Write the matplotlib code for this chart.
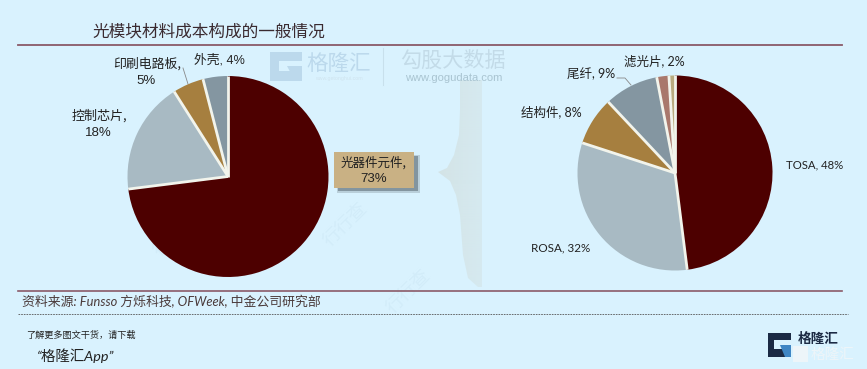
import matplotlib
matplotlib.use("Agg")
import matplotlib.pyplot as plt
import numpy as np
from matplotlib.patches import Rectangle, Polygon, PathPatch
from matplotlib.path import Path

plt.rcParams['font.family'] = ['Noto Sans CJK SC', 'DejaVu Sans']

left_values = [73, 18, 5, 4]
left_colors = ['#4d0000', '#a8bac3', '#a67f3f', '#8496a1']
right_values = [48, 32, 8, 9, 2, 1]
right_colors = ['#4d0000', '#a8bac3', '#a67f3f', '#8496a1', '#a9786c', '#b9ab7f']

W, H = 867, 369
BG = '#d9f2fe'
INK = '#222222'
RULE = '#8a5a68'
GAP = '#f2f4ec'
ARIAL = ['Liberation Sans', 'Noto Sans CJK SC']
LATO = ['Lato', 'Noto Sans CJK SC']

fig = plt.figure(figsize=(W / 100, H / 100), dpi=100, facecolor=BG)
bg = fig.add_axes([0, 0, 1, 1], zorder=0)
bg.set_xlim(0, W)
bg.set_ylim(H, 0)
bg.axis('off')


def draw_pie(cx, cy, r, values, colors):
    ax = fig.add_axes([(cx - r) / W, 1 - (cy + r) / H, 2 * r / W, 2 * r / H], zorder=2)
    ax.pie(values, colors=colors, startangle=90, counterclock=False, radius=1,
           wedgeprops=dict(edgecolor='none', linewidth=0))
    # separators only between slices, no ring around the pie
    share = np.cumsum(values) / np.sum(values)
    for s in share:
        a = np.pi / 2 - 2 * np.pi * s
        ax.plot([0, np.cos(a)], [0, np.sin(a)], color=GAP, lw=2.0, solid_capstyle='butt')
    ax.set_xlim(-1.005, 1.005)
    ax.set_ylim(-1.005, 1.005)
    ax.axis('off')
    return ax


draw_pie(228, 176.5, 101, left_values, left_colors)
draw_pie(675, 173, 98, right_values, right_colors)

# rules
bg.plot([18, 842], [44.5, 44.5], color=RULE, lw=1.3)
bg.plot([18, 842], [291, 291], color=RULE, lw=1.2)
bg.plot([18, 848], [313.5, 313.5], color='#555555', lw=0.6, ls=(0, (2, 1.2)))

# title and notes
bg.text(92, 32, '光模块材料成本构成的一般情况', fontsize=12, color='#3a2a30', va='center', ha='left')
bg.text(22, 302, '资料来源: Funsso 方烁科技, OFWeek, 中金公司研究部', fontsize=9.3, color='#4a3a3a', va='center', ha='left',
        family=LATO, style='italic')
bg.text(26, 335, '了解更多图文干货，请下载', fontsize=6.6, color='#222222', va='center', ha='left')
bg.text(37, 356, '“格隆汇App”', fontsize=10.4, color='#222222', va='center', ha='left', family=LATO, style='italic')

# pie labels, left
bg.text(147, 64, '印刷电路板,', fontsize=9.3, color=INK, ha='center', va='center')
bg.text(146, 81, '5%', fontsize=9.5, color=INK, ha='center', va='center', family=ARIAL)
bg.text(219, 60, '外壳, 4%', fontsize=9.2, color=INK, ha='center', va='center', family=ARIAL)
bg.text(99, 116, '控制芯片,', fontsize=9.4, color=INK, ha='center', va='center')
bg.text(98, 133, '18%', fontsize=9.5, color=INK, ha='center', va='center', family=ARIAL)
bg.plot([183, 188], [68, 84], color='#888888', lw=0.6)

# callout
bg.add_patch(Rectangle((337, 155), 83, 38, fc='#6f7f88', ec='none', alpha=0.3, zorder=2))
bg.add_patch(Rectangle((338, 156), 80, 35, fc='#5f6f78', ec='none', alpha=0.6, zorder=2))
bg.add_patch(Rectangle((334, 152), 80, 36, fc='#c9b184', ec='none', zorder=3))
bg.text(374, 163, '光器件元件,', fontsize=9, color=INK, ha='center', va='center', zorder=4)
bg.text(374, 179, '73%', fontsize=9.5, color=INK, ha='center', va='center', zorder=4, family=ARIAL)

# pie labels, right
bg.text(654, 61, '滤光片, 2%', fontsize=9, color=INK, ha='center', va='center', family=LATO)
bg.text(591, 74, '尾纤, 9%', fontsize=9, color=INK, ha='center', va='center', family=LATO)
bg.text(551, 112, '结构件, 8%', fontsize=9, color=INK, ha='center', va='center', family=LATO)
bg.text(786, 165, 'TOSA, 48%', fontsize=8.2, color=INK, ha='left', va='center', family=LATO)
bg.text(531, 248, 'ROSA, 32%', fontsize=8.4, color=INK, ha='left', va='center', family=LATO)
bg.plot([617, 625, 631], [78, 78, 85], color='#888888', lw=0.6)

# brace with soft horizontal gradient, clipped to its outline
verts = [(460, 80), (482, 80), (482, 287), (478, 287),
         (468, 278), (463, 255), (460, 215), (456, 195), (450, 181), (438, 172),
         (447, 168), (454, 155), (459, 135), (460, 110), (460, 80)]
codes = [Path.MOVETO] + [Path.LINETO] * (len(verts) - 2) + [Path.CLOSEPOLY]
outline = PathPatch(Path(verts, codes), fc='none', ec='none', transform=bg.transData)
bg.add_patch(outline)
ramp = np.linspace(0, 1, 48)[None, :]
rgba = np.zeros((1, 48, 4))
rgba[..., :3] = np.array([0xd3, 0xe2, 0xe3]) / 255
rgba[..., 3] = 0.9 - 0.4 * ramp
im = bg.imshow(rgba, extent=(436, 484, 290, 76), aspect='auto', zorder=1, interpolation='bilinear')
im.set_clip_path(outline)
bg.set_xlim(0, W)
bg.set_ylim(H, 0)

# watermark
WM = '#bcd9ec'
bg.add_patch(Rectangle((270, 52), 32, 29, fc=WM, ec='none', zorder=1))
bg.add_patch(Rectangle((279, 61), 23, 10, fc=BG, ec='none', zorder=1))
bg.add_patch(Polygon([(287, 66), (302, 66), (302, 81), (295, 81)], closed=True, fc=WM, ec='none', zorder=1))
bg.text(338.5, 65, '格隆汇', fontsize=15.5, color=WM, ha='center', va='center', zorder=1)
bg.text(338.5, 78.5, 'www.getonghui.com', fontsize=3.8, color='#cfe4ef', ha='center', va='center', zorder=1, family=ARIAL)
bg.text(452.5, 61, '勾股大数据', fontsize=15.2, color='#c3dbe8', ha='center', va='center', zorder=1)
bg.text(453.5, 78, 'www.gogudata.com', fontsize=8, color='#a9c4d1', ha='center', va='center', zorder=1, family=ARIAL)
bg.plot([383, 383], [48, 85], color='#c8e0ec', lw=0.8, zorder=1)

# faint diagonal marks
for x, y in [(345, 225), (408, 292), (175, 235)]:
    bg.text(x, y, '行行查', fontsize=13, color='#d2ecf9', rotation=45, ha='center', va='center', zorder=1)

# logo
NAVY = '#1b2a44'
bg.add_patch(Rectangle((768, 333), 23, 24, fc=NAVY, ec='none', zorder=3))
bg.add_patch(Rectangle((774, 340), 17, 9, fc=BG, ec='none', zorder=3))
bg.add_patch(Polygon([(780, 345), (791, 345), (791, 357), (785, 357)], closed=True, fc='#3f86c4', ec='none', zorder=3))
bg.text(818, 339.5, '格隆汇', fontsize=9.8, color=NAVY, ha='center', va='center', fontweight='bold', zorder=3)
bg.add_patch(Rectangle((793, 346), 15, 16, fc='#edf5f9', ec='none', zorder=4))
bg.text(833, 354.5, '格隆汇', fontsize=10.5, color='#edf5f9', ha='center', va='center', zorder=4)

fig.savefig('out.png', dpi=100, facecolor=BG)
